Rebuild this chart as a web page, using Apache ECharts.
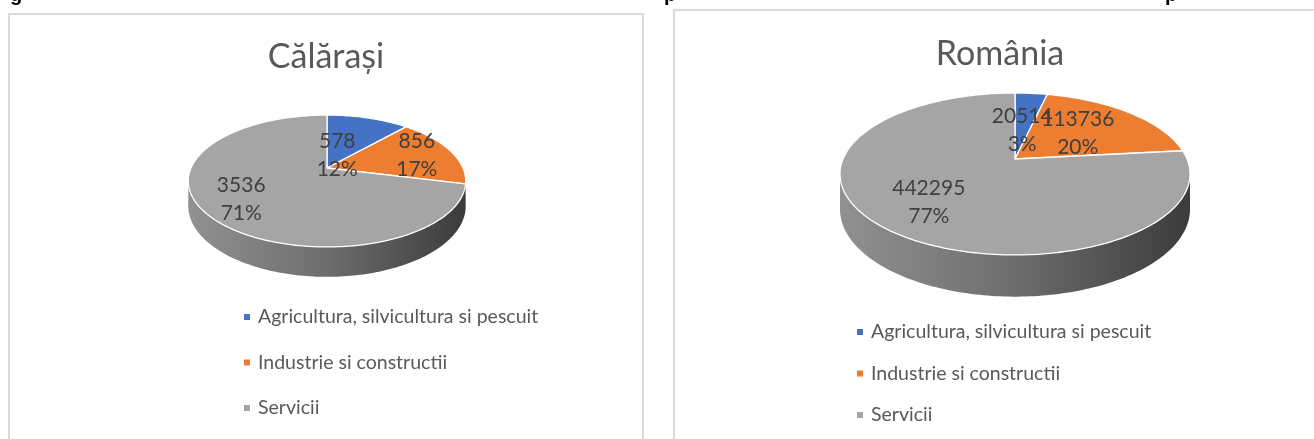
<!DOCTYPE html>
<html>
<head>
<meta charset="utf-8">
<script src="https://cdn.jsdelivr.net/npm/echarts@6/dist/echarts.min.js"></script>
<style>
  html, body { margin: 0; padding: 0; background: #fff; }
  #chart { width: 1314px; height: 439px; }
</style>
</head>
<body>
<div id="chart"></div>
<script>
// date
const regions = ['Călărași', 'România']
const categories = ['Agricultura, silvicultura si pescuit', 'Industrie si constructii', 'Servicii']
const calarasiValues = [578, 856, 3536]
const romaniaValues = [20514, 113736, 442295]
const colors = ['#4472C4', '#ED7D31', '#A5A5A5']

const regionValues = [calarasiValues, romaniaValues]
const FONT = 'Lato, "Noto Sans", sans-serif'

// geometria "3D" a fiecarei placinte (centru, raze, perspectiva, grosime)
const pieGeom = [
  { cx: 327, cy: 168, s: 136, s2: 63.4, p: 0.197, depth: 24, labelR: [0.22, 0.72, 0.73] },
  { cx: 1015, cy: 159, s: 172, s2: 78.2, p: 0.185, depth: 34, labelR: [0.4, 0.52, 0.68] }
]

// procente rotunjite ca suma sa dea 100 (metoda resturilor mari)
function percents(vals) {
  const total = vals.reduce((a, b) => a + b, 0)
  const raw = vals.map(v => v / total * 100)
  const out = raw.map(Math.floor)
  let left = 100 - out.reduce((a, b) => a + b, 0)
  const order = raw.map((r, i) => [r - Math.floor(r), i]).sort((a, b) => b[0] - a[0])
  for (let j = 0; j < left; j++) out[order[j][1]]++
  return out
}
const regionPercents = regionValues.map(percents)

function shade(hex, k) {
  const n = parseInt(hex.slice(1), 16)
  const r = Math.round(((n >> 16) & 255) * k)
  const g = Math.round(((n >> 8) & 255) * k)
  const b = Math.round((n & 255) * k)
  return 'rgb(' + r + ',' + g + ',' + b + ')'
}

function renderSlice(params, api) {
  const k = api.value(0)
  const cat = params.seriesIndex
  const vals = regionValues[k]
  const total = vals.reduce((a, b) => a + b, 0)
  let before = 0
  for (let i = 0; i < cat; i++) before += vals[i]
  const a0 = before / total * Math.PI * 2
  const a1 = (before + vals[cat]) / total * Math.PI * 2
  const g = pieGeom[k]

  const pt = (t, f, down) => {
    const u = f * Math.sin(t), v = f * Math.cos(t)
    const w = 1 + g.p * v
    return api.coord([g.cx + g.s * u / w, g.cy - g.s2 * v / w + (down ? g.depth / w : 0)])
  }
  const arc = (from, to, down) => {
    const n = Math.max(2, Math.ceil(Math.abs(to - from) / 0.02))
    const pts = []
    for (let i = 0; i <= n; i++) pts.push(pt(from + (to - from) * i / n, 1, down))
    return pts
  }

  const children = []
  // peretele lateral (doar partea din fata)
  const t1 = Math.acos(-g.p), t2 = Math.PI * 2 - t1
  const w0 = Math.max(a0, t1), w1 = Math.min(a1, t2)
  if (w1 > w0) {
    const left = api.coord([g.cx - g.s * 1.02, 0])[0]
    const right = api.coord([g.cx + g.s * 1.02, 0])[0]
    const base = colors[cat]
    children.push({
      type: 'polygon',
      z2: 1,
      shape: { points: arc(w0, w1, false).concat(arc(w1, w0, true)) },
      style: {
        fill: new echarts.graphic.LinearGradient(left, 0, right, 0, [
          { offset: 0, color: shade(base, 0.88) },
          { offset: 0.5, color: shade(base, 0.66) },
          { offset: 1, color: shade(base, 0.36) }
        ], true)
      }
    })
  }
  // fata de sus
  children.push({
    type: 'polygon',
    z2: 10,
    shape: { points: [pt(0, 0, false)].concat(arc(a0, a1, false)) },
    style: { fill: colors[cat], stroke: '#fff', lineWidth: 1.3 }
  })
  // eticheta
  const mid = (a0 + a1) / 2
  const lp = pt(mid, g.labelR[cat], false)
  children.push({
    type: 'text',
    z2: 20,
    x: lp[0],
    y: lp[1],
    style: {
      text: vals[cat] + '\n' + regionPercents[k][cat] + '%',
      fontSize: 21,
      lineHeight: 28,
      fontFamily: FONT,
      fill: '#404040',
      align: 'center',
      verticalAlign: 'middle'
    }
  })
  return { type: 'group', children: children }
}

const chart = echarts.init(document.getElementById('chart'))

const legendBase = {
  data: categories,
  orient: 'vertical',
  icon: 'rect',
  itemWidth: 6,
  itemHeight: 6,
  selectedMode: false,
  textStyle: { fontSize: 19.5, lineHeight: 20, color: '#595959', fontFamily: FONT, padding: [0, 0, 0, 3] }
}

const option = {
  animation: false,
  grid: { left: 0, right: 0, top: 0, bottom: 0 },
  xAxis: { type: 'value', min: 0, max: 1314, show: false },
  yAxis: { type: 'value', min: 0, max: 439, inverse: true, show: false },
  legend: [
    Object.assign({}, legendBase, { left: 239, top: 302, itemGap: 25.5 }),
    Object.assign({}, legendBase, { left: 852, top: 317, itemGap: 21.5 })
  ],
  graphic: [
    { type: 'rect', shape: { x: 9, y: 14, width: 634, height: 450 }, style: { fill: 'none', stroke: '#d9d9d9', lineWidth: 2 } },
    { type: 'rect', shape: { x: 674, y: 10, width: 700, height: 450 }, style: { fill: 'none', stroke: '#d9d9d9', lineWidth: 2 } },
    { type: 'text', x: 326, y: 57, style: { text: regions[0], fontSize: 34, fontFamily: FONT, fill: '#595959', align: 'center', verticalAlign: 'middle' } },
    { type: 'text', x: 1000, y: 54, style: { text: regions[1], fontSize: 34, fontFamily: FONT, fill: '#595959', align: 'center', verticalAlign: 'middle' } },
    // titlul figurii, taiat sus
    { type: 'text', x: 10, y: 5, style: { text: 'g', fontSize: 20, fontWeight: 'bold', fontFamily: 'Liberation Sans', fill: '#000', verticalAlign: 'bottom' } },
    { type: 'text', x: 664, y: 5, style: { text: 'p', fontSize: 20, fontWeight: 'bold', fontFamily: 'Liberation Sans', fill: '#000', verticalAlign: 'bottom' } },
    { type: 'text', x: 1165, y: 5, style: { text: 'p', fontSize: 20, fontWeight: 'bold', fontFamily: 'Liberation Sans', fill: '#000', verticalAlign: 'bottom' } }
  ],
  series: categories.map((name, i) => ({
    type: 'custom',
    name: name,
    coordinateSystem: 'cartesian2d',
    color: colors[i],
    renderItem: renderSlice,
    data: regions.map((r, k) => [k, regionValues[k][i]])
  }))
}

chart.setOption(option)
</script>
</body>
</html>
